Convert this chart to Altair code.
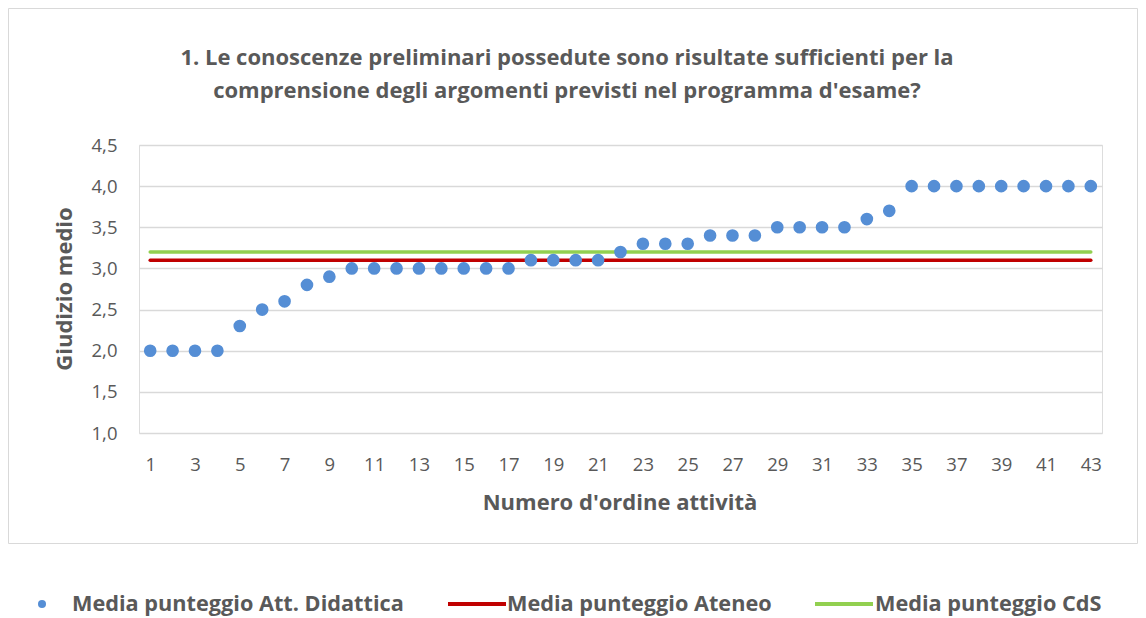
import altair as alt
import pandas as pd

# ---- data ----
attivita = [1, 2, 3, 4, 5, 6, 7, 8, 9, 10, 11, 12, 13, 14, 15, 16, 17, 18, 19, 20, 21, 22,
            23, 24, 25, 26, 27, 28, 29, 30, 31, 32, 33, 34, 35, 36, 37, 38, 39, 40, 41, 42, 43]
valori = [2.0, 2.0, 2.0, 2.0, 2.3, 2.5, 2.6, 2.8, 2.9, 3.0, 3.0, 3.0, 3.0, 3.0, 3.0, 3.0, 3.0,
          3.1, 3.1, 3.1, 3.1, 3.2, 3.3, 3.3, 3.3, 3.4, 3.4, 3.4, 3.5, 3.5, 3.5, 3.5, 3.6, 3.7,
          4.0, 4.0, 4.0, 4.0, 4.0, 4.0, 4.0, 4.0, 4.0]
serie = ["Media punteggio Att. Didattica", "Media punteggio Ateneo", "Media punteggio CdS"]
colori = ["#558ED5", "#C00000", "#92D050"]
media_ateneo = 3.1
media_cds = 3.2
y_ticks = [1.0, 1.5, 2.0, 2.5, 3.0, 3.5, 4.0, 4.5]
x_ticks = [1, 3, 5, 7, 9, 11, 13, 15, 17, 19, 21, 23, 25, 27, 29, 31, 33, 35, 37, 39, 41, 43]
titolo = ["1. Le conoscenze preliminari possedute sono risultate sufficienti per la",
          "comprensione degli argomenti previsti nel programma d'esame?"]
titolo_y = "Giudizio medio"
titolo_x = "Numero d'ordine attività"

FONT = "Open Sans"
GREY = "#595959"
W, H = 963, 288

df_pts = pd.DataFrame({"attivita": attivita, "valore": valori})
df_lines = pd.DataFrame({
    "serie": serie[1:],
    "valore": [media_ateneo, media_cds],
    "x0": [attivita[0]] * 2,
    "x1": [attivita[-1]] * 2,
    "colore": colori[1:],
})

xscale = alt.Scale(domain=[0.5, 43.5], nice=False, zero=False)
yscale = alt.Scale(domain=[1.0, 4.5], nice=False, zero=False)

x_axis = alt.Axis(values=x_ticks, grid=False, domain=False, ticks=False, title=None,
                  labelFont=FONT, labelFontSize=18.5, labelColor=GREY, labelPadding=22)
y_axis = alt.Axis(values=y_ticks, grid=True, gridColor="#D9D9D9", gridWidth=1.5,
                  domain=False, ticks=False, title=None,
                  labelFont=FONT, labelFontSize=18.5, labelColor=GREY, labelPadding=22,
                  labelExpr="replace(format(datum.value, '.1f'), '.', ',')")

one = pd.DataFrame({"k": [0]})

border = alt.Chart(one).mark_rect(filled=False, stroke="#D9D9D9", strokeWidth=1).encode(
    x=alt.value(-130.5), x2=alt.value(998.5), y=alt.value(-136.5), y2=alt.value(398.5)
)

lines = alt.Chart(df_lines).mark_rule(strokeWidth=3.5, strokeCap="round").encode(
    x=alt.X("x0:Q", scale=xscale, axis=x_axis),
    x2="x1:Q",
    y=alt.Y("valore:Q", scale=yscale, axis=y_axis),
    color=alt.Color("colore:N", scale=None, legend=None),
)

points = alt.Chart(df_pts).mark_point(filled=True, size=160, opacity=1, color=colori[0]).encode(
    x=alt.X("attivita:Q", scale=xscale),
    y=alt.Y("valore:Q", scale=yscale),
)

def txt(text, x, y, size, angle=None, align="center"):
    kw = dict(font=FONT, fontSize=size, fontWeight="bold", color=GREY,
              align=align, baseline="middle", text=text)
    if angle is not None:
        kw["angle"] = angle
    return alt.Chart(one).mark_text(**kw).encode(x=alt.value(x), y=alt.value(y))

title1 = txt(titolo[0], 428, -87, 22)
title2 = txt(titolo[1], 428, -54, 22)
ytitle = txt(titolo_y, -74, 144, 22, angle=270)
xtitle = txt(titolo_x, 481, 358, 22)

# ---- custom legend ----
LY = 459
leg_dot = alt.Chart(one).mark_point(filled=True, size=64, opacity=1, color=colori[0]).encode(
    x=alt.value(-97), y=alt.value(LY))
leg_l1 = alt.Chart(one).mark_rule(strokeWidth=4, color=colori[1]).encode(
    x=alt.value(309), x2=alt.value(367), y=alt.value(LY))
leg_l2 = alt.Chart(one).mark_rule(strokeWidth=4, color=colori[2]).encode(
    x=alt.value(676), x2=alt.value(734), y=alt.value(LY))
leg_t = [txt(t, xv, LY, 21.7, align="left") for t, xv in zip(serie, [-67, 368, 736])]

chart = alt.layer(border, lines, points, title1, title2, ytitle, xtitle,
                  leg_dot, leg_l1, leg_l2, *leg_t).properties(
    width=W, height=H,
    autosize=alt.AutoSizeParams(type="none"),
    padding={"left": 131, "top": 137, "right": 36, "bottom": 185},
).configure_view(stroke=None).configure(background="white")

chart.save("out.html", embed_options={"renderer": "svg", "actions": False})
